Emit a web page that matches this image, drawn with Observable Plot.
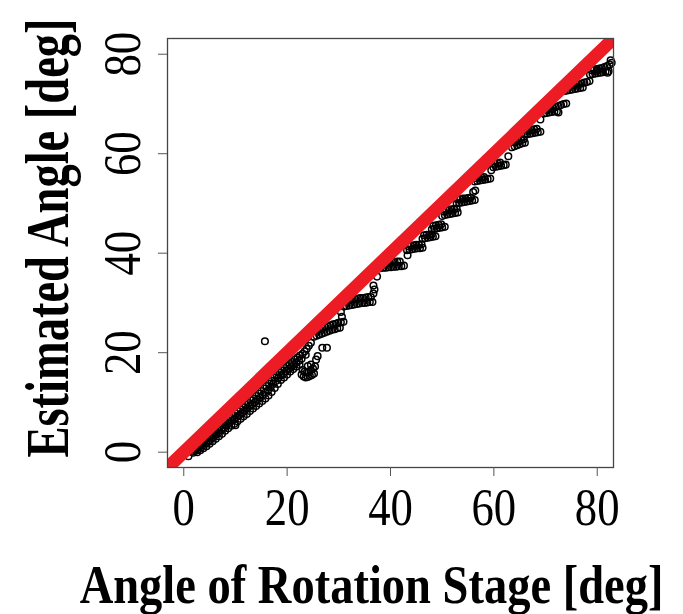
<!DOCTYPE html>
<html><head><meta charset="utf-8">
<script src="https://cdn.jsdelivr.net/npm/d3@7"></script>
<script src="https://cdn.jsdelivr.net/npm/@observablehq/plot@0.6"></script>
<style>body{margin:0;background:#fff}</style>
</head><body><div id="chart"></div>
<script>
// [stage angle, estimated angle] pairs
const bandUpper = [[1.5,0.1],[2,0.5],[2.5,0.9],[3,1.4],[3.5,1.9],[4,2.3],[4.5,2.8],[5,3.2],[5.5,3.7],[6,4.1],[6.5,4.6],[7,5.0],[7.5,5.5],[8,6.0],[8.5,6.4],[9,6.9],[9.5,7.3],[10,7.8],[10.5,8.2],[11,8.6],[11.5,9.0],[12,9.5],[12.5,9.9],[13,10.4],[13.5,10.8],[14,11.3],[14.5,11.8],[15,12.3],[15.5,12.8],[16,13.3],[16.5,13.8],[17,14.4],[17.5,15.0],[18,15.5],[18.5,16.0],[19,16.4],[19.5,16.9],[20,17.3],[20.5,17.7],[21,18.1],[21.5,18.6],[22,19.0],[22.5,19.4],[23,19.8]];
const bandMid = [[1.8,-0.1],[2.3,0.3],[2.8,0.6],[3.3,1.0],[3.8,1.4],[4.3,1.8],[4.8,2.2],[5.3,2.7],[5.8,3.1],[6.3,3.6],[6.8,4.0],[7.3,4.5],[7.8,4.9],[8.3,5.4],[8.8,5.8],[9.3,6.3],[9.8,6.7],[10.3,7.1],[10.8,7.5],[11.3,7.9],[11.8,8.4],[12.3,8.8],[12.8,9.3],[13.3,9.7],[13.8,10.1],[14.3,10.6],[14.8,11.0],[15.3,11.5],[15.8,12.0],[16.3,12.4],[16.8,13.0],[17.3,13.7],[17.8,14.3],[18.3,14.9],[18.8,15.4],[19.3,15.8],[19.8,16.3],[20.3,16.7],[20.8,17.1],[21.3,17.6],[21.8,18.0],[22.3,18.4],[22.8,18.8]];
const bandLower = [[2.6,0.0],[3.2,0.4],[3.8,0.8],[4.4,1.2],[5.0,1.7],[5.6,2.2],[6.2,2.7],[6.8,3.2],[7.4,3.7],[8.0,4.3],[8.6,4.8],[9.2,5.3],[9.8,5.7],[10.0,5.4],[10.4,6.2],[11.0,6.7],[11.6,7.2],[12.2,7.7],[12.8,8.3],[13.4,8.8],[14.0,9.3],[14.6,9.8],[15.2,10.3],[15.8,10.8],[16.4,11.4],[17.0,12.1],[17.6,12.9],[18.2,13.7],[18.8,14.5],[19.4,15.0],[20.0,15.6],[20.6,16.2],[21.2,16.7],[21.8,17.2],[22.4,17.6]];
const outliers = [[0.9,-0.8],[15.7,22.3],[23.4,20.3],[23.8,20.8],[24.2,21.4],[24.6,22.0],[23.6,19.6]];
const dip = [[22.8,15.6],[23.2,15.2],[23.6,15.0],[24.0,15.1],[24.4,15.3],[24.8,15.5],[25.2,15.8],[23.0,16.5],[23.4,16.2],[23.8,16.0],[24.2,16.2],[24.6,16.5],[25.0,16.8],[25.4,17.2],[24.0,17.3],[24.6,17.6],[25.6,18.6],[25.9,19.3],[26.8,21.0],[27.7,21.0]];
const step25 = [[25.2,23.2],[25.7,23.4],[26.2,23.6],[26.7,23.8],[27.2,24.0],[27.7,24.2],[28.2,24.4],[28.7,24.6],[29.2,24.7],[29.7,24.9],[30.2,25.0],[25.4,24.3],[25.9,24.5],[26.4,24.7],[26.9,24.9],[27.4,25.1],[27.9,25.3],[28.4,25.5],[28.9,25.7],[29.4,25.8],[29.9,26.0],[30.4,26.1],[30.9,26.2],[30.4,28.2],[30.6,27.2]];
const step31 = [[31.0,29.3],[31.5,29.4],[32.0,29.5],[32.5,29.6],[33.0,29.7],[33.5,29.8],[34.0,29.9],[34.5,30.0],[35.0,30.0],[35.5,30.1],[36.0,30.2],[36.5,30.2],[31.2,30.4],[31.7,30.5],[32.2,30.6],[32.7,30.7],[33.2,30.8],[33.7,30.9],[34.2,31.0],[34.7,31.0],[35.2,31.1],[35.7,31.2],[36.2,31.2],[36.7,31.9],[36.7,33.5],[37.4,35.3],[36.9,32.7]];
const step37 = [[37.6,36.9],[38.1,37.0],[38.6,37.1],[39.1,37.1],[39.6,37.2],[40.1,37.2],[40.6,37.3],[41.1,37.3],[41.6,37.4],[42.1,37.4],[42.6,37.5],[37.8,37.8],[38.3,38.0],[38.8,38.0],[39.3,38.1],[39.8,38.1],[40.3,38.2],[40.8,38.2],[41.3,38.3],[41.8,38.3],[43.3,39.6]];
const step43 = [[43.2,40.6],[43.7,40.7],[44.2,40.8],[44.7,40.9],[45.2,41.0],[45.7,41.0],[46.2,41.1],[43.5,41.4],[44.0,41.5],[44.5,41.6],[45.0,41.7],[45.5,41.7],[46.0,41.8]];
const step46 = [[46.2,42.9],[46.7,43.0],[47.2,43.1],[47.7,43.2],[48.2,43.3],[48.7,43.4],[46.5,43.6],[47.0,43.7],[47.5,43.7],[48.0,43.8]];
const step48 = [[48.0,44.8],[48.5,44.9],[49.0,45.0],[49.5,45.1],[50.0,45.2],[50.5,45.3],[48.3,45.5],[48.8,45.6],[49.3,45.7],[49.8,45.8]];
const step50 = [[50.0,47.5],[50.5,47.7],[51.0,47.8],[51.5,47.9],[52.0,48.0],[52.5,48.1],[53.0,48.2],[50.3,48.4],[50.8,48.6],[51.3,48.7],[51.8,48.8],[52.3,48.9],[52.8,49.0]];
const step53 = [[52.8,50.0],[53.3,50.1],[53.8,50.2],[54.3,50.3],[54.8,50.4],[55.3,50.5],[55.8,50.6],[56.3,50.7],[53.0,50.8],[53.5,50.9],[54.0,51.0],[54.5,51.0],[55.0,51.1],[55.5,51.2],[56.4,52.6],[56.0,52.3]];
const step56 = [[56.3,54.4],[56.8,54.5],[57.3,54.6],[57.8,54.7],[58.3,54.8],[58.8,54.9],[59.3,55.0],[56.6,55.1],[57.1,55.2],[57.6,55.2],[58.1,55.3],[59.5,56.7]];
const step60 = [[59.9,57.3],[60.4,57.4],[60.9,57.5],[61.4,57.6],[61.9,57.7],[62.3,57.8],[60.2,58.0],[60.7,58.1],[61.2,58.2],[62.8,59.5]];
const step63 = [[63.5,61.3],[64.0,61.5],[64.5,61.7],[65.0,61.9],[65.5,62.1],[66.0,62.2],[63.8,62.3],[64.3,62.5],[64.8,62.6],[65.3,62.8],[65.8,62.9]];
const step66 = [[66.0,63.8],[66.5,63.9],[67.0,64.0],[67.5,64.1],[68.0,64.2],[68.5,64.3],[69.0,64.4],[66.3,64.6],[66.8,64.7],[67.3,64.8],[67.8,64.9],[68.3,65.0],[69.0,66.9]];
const step70 = [[69.7,68.1],[70.2,68.2],[70.7,68.3],[71.2,68.4],[71.7,68.5],[72.2,68.5],[72.5,68.3],[70.0,68.9],[70.5,69.0],[71.0,69.1],[71.5,69.2],[72.0,69.4],[72.5,69.6],[73.0,69.8],[73.5,70.0],[74.0,70.1]];
const step74 = [[73.7,72.6],[74.2,72.7],[74.7,72.8],[75.2,72.9],[75.7,73.0],[76.2,73.1],[76.7,73.2],[77.2,73.3],[74.0,73.5],[74.5,73.6],[75.0,73.7],[75.5,73.8],[76.0,73.9],[76.5,74.0],[77.0,74.1],[77.5,74.3],[78.0,74.4],[78.5,74.6]];
const step79 = [[78.6,75.9],[79.1,76.0],[79.6,76.1],[80.0,76.7],[80.1,76.2],[80.6,76.3],[81.1,76.4],[81.6,76.5],[82.0,76.3],[82.2,76.6],[78.9,76.8],[79.4,76.9],[79.9,77.0],[80.4,77.1],[80.9,77.2],[81.4,77.4],[81.9,77.6],[82.4,77.9],[82.8,78.3],[82.6,78.8]];

const xTicks = [0, 20, 40, 60, 80];
const yTicks = [0, 20, 40, 60, 80];
const identityRange = [-10, 100]; // y = x reference line
const xTitle = "Angle of Rotation Stage [deg]";
const yTitle = "Estimated Angle [deg]";

const points = [bandUpper, bandMid, bandLower, outliers, dip, step25, step31, step37, step43, step46, step48, step50, step53, step56, step60, step63, step66, step70, step74, step79]
  .flat().map(([stage, est]) => ({stage, est}));

const serif = "'Liberation Serif', 'Times New Roman', serif";
const chart = Plot.plot({
  width: 683, height: 614,
  marginLeft: 167, marginRight: 70, marginTop: 38, marginBottom: 147,
  style: {fontFamily: serif, background: "#fff", color: "#000", overflow: "visible"},
  x: {domain: [-3.15, 83.15]},
  y: {domain: [-3.08, 83.16]},
  marks: [
    Plot.dot(points, {x: "stage", y: "est", r: 3.3, stroke: "#000", strokeWidth: 1.5, fill: "none"}),
    Plot.line(identityRange, {x: d => d, y: d => d, stroke: "#ed1c24", strokeWidth: 13, clip: true}),
    Plot.frame({stroke: "#444", strokeWidth: 1.3}),
    Plot.axisX({ticks: xTicks, tickSize: 9, tickPadding: 12, fontSize: 52, stroke: "#555", label: null, fill: "#000"}),
    Plot.axisY({ticks: yTicks, tickSize: 9, tickPadding: 19, fontSize: 52, tickRotate: -90, stroke: "#555", label: null, fill: "#000"}),
    Plot.text([xTitle], {text: d => d, frameAnchor: "bottom", dx: -19, dy: 135, lineAnchor: "bottom", textAnchor: "middle", fontSize: 62, fontWeight: "bold", fill: "#000"}),
    Plot.text([yTitle], {text: d => d, frameAnchor: "left", dx: -100, dy: -15, rotate: -90, lineAnchor: "bottom", textAnchor: "middle", fontSize: 62, fontWeight: "bold", fill: "#000"})
  ]
});
document.getElementById("chart").appendChild(chart);

// narrow glyphs along the reading direction, as in the reference
d3.select(chart).selectAll("text").each(function() {
  const t = this.textContent;
  const s = (t === xTitle || t === yTitle) ? 0.75 : 0.86;
  const sy = t === xTitle ? 0.88 : 1;
  const tr = this.getAttribute("transform") || "";
  const xa = this.getAttribute("x");
  const ok = xa !== null && /^-?[\d.]+$/.test(xa);
  const x = ok ? +xa : 0;
  if (ok) this.removeAttribute("x");
  this.setAttribute("transform", `${tr} translate(${x},0) scale(${s},${sy})`);
});
</script>
</body></html>
